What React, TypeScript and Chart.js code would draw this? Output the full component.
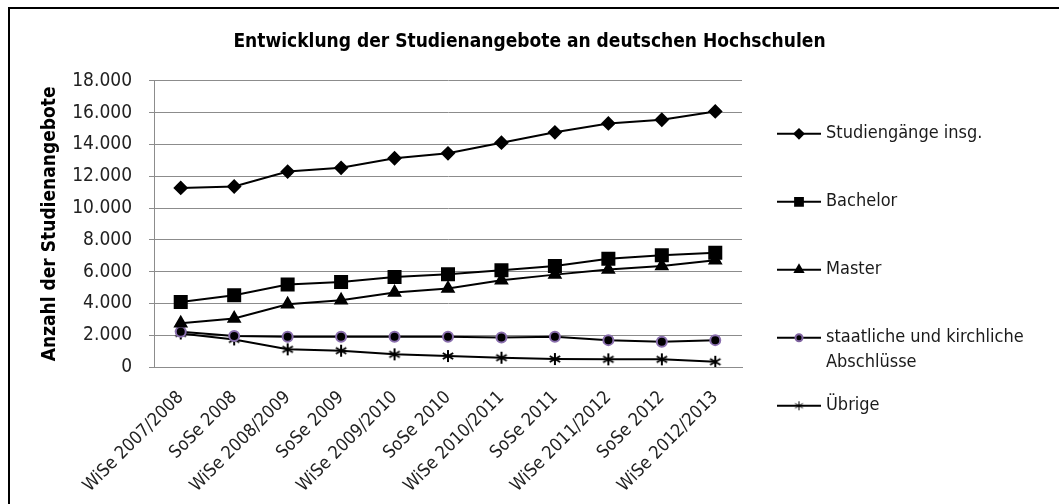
import React, { useEffect, useRef } from "react";
import { Chart, registerables } from "chart.js";
import { drawPoint } from "chart.js/helpers";

Chart.register(...registerables);

const chartTitle = "Entwicklung der Studienangebote an deutschen Hochschulen";
const yAxisTitle = "Anzahl der Studienangebote";
const categories = [
  "WiSe 2007/2008", "SoSe 2008", "WiSe 2008/2009", "SoSe 2009", "WiSe 2009/2010", "SoSe 2010",
  "WiSe 2010/2011", "SoSe 2011", "WiSe 2011/2012", "SoSe 2012", "WiSe 2012/2013",
];
const seriesNames = ["Studiengänge insg.", "Bachelor", "Master", "staatliche und kirchliche Abschlüsse", "Übrige"];
const legendLines = [["Studiengänge insg."], ["Bachelor"], ["Master"], ["staatliche und kirchliche", "Abschlüsse"], ["Übrige"]];
const studiengaenge = [11265, 11350, 12290, 12525, 13130, 13440, 14110, 14760, 15320, 15550, 16075];
const bachelor = [4095, 4515, 5185, 5350, 5665, 5830, 6085, 6355, 6815, 7025, 7190];
const master = [2750, 3050, 3950, 4200, 4680, 4935, 5455, 5810, 6125, 6355, 6710];
const staatliche = [2215, 1945, 1900, 1900, 1900, 1900, 1860, 1900, 1690, 1590, 1690];
const uebrige = [2110, 1735, 1110, 1025, 795, 690, 585, 500, 480, 480, 330];
const yMax = 18000;
const yStep = 2000;

const FONT = "'DejaVu Sans Condensed', sans-serif";

function fmt(v: number): string {
  const s = Math.round(v).toString();
  return s.replace(/\B(?=(\d{3})+(?!\d))/g, ".");
}

function makeAsterisk(size: number, lw: number): HTMLCanvasElement {
  const c = document.createElement("canvas");
  c.width = size;
  c.height = size;
  const ctx = c.getContext("2d")!;
  ctx.strokeStyle = "#000";
  ctx.lineWidth = lw;
  const r = size / 2 - 1;
  const cx = size / 2;
  ctx.beginPath();
  for (let i = 0; i < 3; i++) {
    const a = Math.PI / 2 + (i * Math.PI) / 3;
    ctx.moveTo(cx + r * Math.cos(a), cx + r * Math.sin(a));
    ctx.lineTo(cx - r * Math.cos(a), cx - r * Math.sin(a));
  }
  ctx.stroke();
  return c;
}

const legendPlugin = {
  id: "customLegend",
  afterDraw(chart: any) {
    const ctx = chart.ctx;
    const area = chart.chartArea;
    const x0 = area.right + 35;
    const styles = [
      { pointStyle: "rectRot", radius: 4.5 },
      { pointStyle: "rect", radius: 5.5 },
      { pointStyle: "triangle", radius: 4.5 },
      { pointStyle: "circle", radius: 3.5 },
      { pointStyle: makeAsterisk(11, 1), radius: 5 },
    ];
    ctx.save();
    legendLines.forEach((lines, i) => {
      const y = area.top + 53 + i * 68;
      ctx.strokeStyle = "#000";
      ctx.lineWidth = 2;
      ctx.beginPath();
      ctx.moveTo(x0, y);
      ctx.lineTo(x0 + 44, y);
      ctx.stroke();
      ctx.fillStyle = "#000";
      ctx.strokeStyle = i === 3 ? "#7f63a0" : "#000";
      drawPoint(ctx, { ...styles[i], rotation: 0, borderWidth: 1 } as any, x0 + 22, y);
      ctx.fillStyle = "#1a1a1a";
      ctx.font = `18px ${FONT}`;
      ctx.textBaseline = "middle";
      ctx.textAlign = "left";
      lines.forEach((t, j) => ctx.fillText(t, x0 + 49, y + j * 25));
    });
    ctx.restore();
  },
};

export default function App() {
  const ref = useRef<HTMLCanvasElement>(null);
  useEffect(() => {
    if (!ref.current) return;
    const common = { borderColor: "#000", borderWidth: 2, backgroundColor: "#000", tension: 0 };
    const chart = new Chart(ref.current, {
      type: "line",
      data: {
        labels: categories,
        datasets: [
          { ...common, label: seriesNames[0], data: studiengaenge, pointStyle: "rectRot", pointRadius: 6, pointBorderColor: "#000", pointBackgroundColor: "#000" },
          { ...common, label: seriesNames[1], data: bachelor, pointStyle: "rect", pointRadius: 8.5, pointBorderColor: "#000", pointBackgroundColor: "#000" },
          { ...common, label: seriesNames[2], data: master, pointStyle: "triangle", pointRadius: 6.5, pointBorderColor: "#000", pointBackgroundColor: "#000" },
          { ...common, label: seriesNames[3], data: staatliche, pointStyle: "circle", pointRadius: 5, pointBorderWidth: 2, pointBorderColor: "#8a6fae", pointBackgroundColor: "#000" },
          { ...common, label: seriesNames[4], data: uebrige, pointStyle: makeAsterisk(14, 2) as any, pointRadius: 7 },
        ],
      },
      options: {
        animation: false,
        responsive: false,
        layout: { padding: 0 },
        plugins: {
          legend: { display: false },
          tooltip: { enabled: false },
          title: {
            display: true,
            text: chartTitle,
            color: "#000",
            font: { family: FONT, size: 19, weight: "bold" },
            padding: { top: 31, bottom: 27 },
          },
        },
        scales: {
          x: {
            offset: true,
            grid: { display: false },
            border: { display: true, color: "#8c8c8c", width: 1 },
            ticks: {
              color: "#222",
              font: { family: FONT, size: 18 },
              minRotation: 45,
              maxRotation: 45,
              autoSkip: false,
              padding: 12,
            },
            afterFit: (s: any) => { s.height = 137; },
          },
          y: {
            min: 0,
            max: yMax,
            ticks: {
              stepSize: yStep,
              color: "#222",
              font: { family: FONT, size: 19 },
              padding: 17,
              callback: (v: any) => fmt(Number(v)),
            },
            grid: { color: "#8c8c8c", lineWidth: 1, tickLength: 5 },
            border: { display: true, color: "#8c8c8c", width: 1 },
            title: {
              display: true,
              text: yAxisTitle,
              color: "#000",
              font: { family: FONT, size: 19, weight: "bold" },
              padding: { top: 39, bottom: 0 },
            },
            afterFit: (s: any) => { s.width = 154; },
          },
          yR: {
            position: "right",
            display: true,
            min: 0,
            max: 1,
            grid: { display: false },
            border: { display: false },
            ticks: { display: false },
            afterFit: (s: any) => { s.width = 317; },
          },
        },
      },
      plugins: [legendPlugin],
    });
    return () => chart.destroy();
  }, []);
  return (
    <div style={{ position: "absolute", left: 0, top: 0, width: 1059, height: 504, overflow: "hidden", background: "#fff" }}>
      <div style={{ position: "absolute", left: 8, top: 7, width: 1100, height: 600, border: "2px solid #000", boxSizing: "border-box" }} />
      <canvas ref={ref} width={1059} height={504} style={{ position: "absolute", left: 0, top: 0 }} />
    </div>
  );
}
